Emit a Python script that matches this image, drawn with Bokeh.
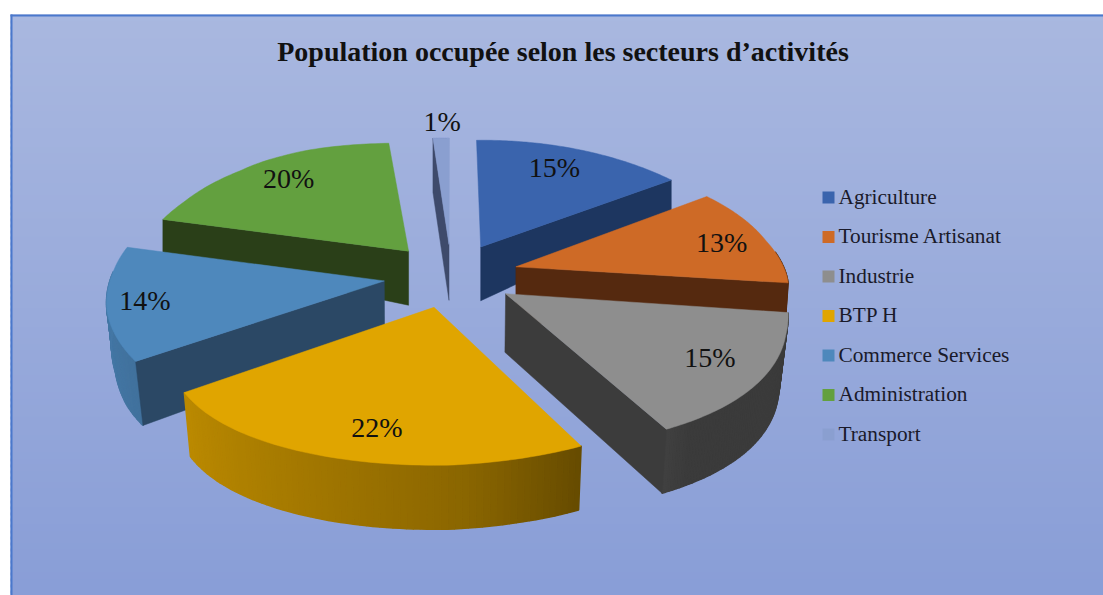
import numpy as np
from bokeh.plotting import figure
from bokeh.core.properties import value
from bokeh.embed import file_html
from bokeh.resources import INLINE

# ---- data
title_text = "Population occupée selon les secteurs d’activités"
categories = ["Agriculture", "Tourisme Artisanat", "Industrie", "BTP H",
              "Commerce Services", "Administration", "Transport"]
shares = [15.2, 13.0, 14.8, 22.0, 14.0, 19.8, 1.2]

# ---- styles
top_colors = ["#3A64AD", "#CE6A26", "#8E8E8E", "#E0A500", "#4E88BC", "#63A03F", "#8A9FD0"]
wall_colors = ["#1D3660", "#55290F", "#3C3C3C", "#5A4200", "#2B4865", "#2A3F18", "#3E4A6B"]
label_radius = [0.72, 0.72, 0.72, 0.66, 0.84, 0.72, 1.17]
label_nudge = [(-1, -8), (28, -1), (28, 5), (-4, 25), (-7, 1), (-10, -9), (2, -1)]
draw_order = [6, 5, 0, 1, 4, 2, 3]   # back to front

# ---- projection of the tilted, exploded pie into page pixels
CX, CY = 451, 275
A, PX = 270, 0.25
B, PY = 128, 0.131
EXPLODE = 0.25
W, H = 1103, 595


def thickness(X, Y):
    w = np.clip(Y / 0.3, 0, 1)
    side = np.where(X < 0, 19, 26)
    return 56 + 8 * np.clip(-Y / 0.5, 0, 1) - side * np.abs(X) * w


def project(X, Y, drop=False):
    X, Y = np.asarray(X, float), np.asarray(Y, float)
    sx = CX + A * X / (1 + PX * Y)
    # the original's camera skews the two sides slightly differently
    left = np.interp(Y, [-0.8, -0.65, -0.3, 0, 0.2, 0.6, 0.9, 1.05, 1.19, 1.22],
                     [34, 22, 8, -2, -10, -14, -22, -35, -58, -13])
    right = np.interp(Y, [-1, -0.5, -0.2, 0.2, 0.8], [-22, -14, -6, -2, 11])
    sx = sx + np.where(X < 0, left, right) * np.abs(X)
    sy = CY - B * Y / (1 + PY * Y)
    lift = np.interp(Y, [-1, -0.1, 0.8], [6, 10, 3])
    sy = sy - np.where(X > 0, lift * X, 2.5 * np.abs(X))
    if drop:
        sy = sy + thickness(X, Y)
        # the lower rim converges slightly at the front
        sx = sx - 7 * X * np.clip(-Y / 0.3, 0, 1)
    return sx, sy


def hex_scale(c, f):
    r, g, b = int(c[1:3], 16), int(c[3:5], 16), int(c[5:7], 16)
    return "#%02x%02x%02x" % (int(r * f), int(g * f), int(b * f))


p = figure(width=W, height=H, x_range=(0, W), y_range=(H, 0),
           output_backend="svg", toolbar_location=None, min_border=0,
           background_fill_color="white", border_fill_color="white", outline_line_color=None)
p.xaxis.visible = False
p.yaxis.visible = False
p.grid.visible = False

# panel background: vertical gradient (overlapping bands) and the blue frame
bands = np.arange(14, H + 6, 6)
c0, c1 = np.array([0xA9, 0xB8, 0xE0]), np.array([0x89, 0x9E, 0xD7])
n = len(bands) - 1
band_colors = ["#%02x%02x%02x" % tuple(int(v) for v in c0 + (c1 - c0) * i / (n - 1)) for i in range(n)]
p.quad(left=10, right=W, top=bands[:-1], bottom=bands[1:] + 3, fill_color=band_colors, line_color=None)
p.quad(left=[10, 10], right=[W, 12], top=[14, 14], bottom=[16, H],
       fill_color="#4A78CC", line_color=None)

# pie, slice by slice
edges = np.concatenate([[0], np.cumsum(shares)]) / np.sum(shares) * 2 * np.pi
shade_x, shade_f = [-1, 0.1, 0.5, 1], [0.88, 0.62, 0.42, 0.42]

for i in draw_order:
    t0, t1 = edges[i], edges[i + 1]
    mid = (t0 + t1) / 2
    ex, ey = EXPLODE * np.sin(mid), EXPLODE * np.cos(mid)
    th = np.linspace(t0, t1, 72)
    ax, ay = ex + np.sin(th), ey + np.cos(th)

    # outer wall, shaded along the arc (only the part that faces the viewer)
    sx, sy = project(ax, ay)
    dx, dy = project(ax, ay, drop=True)
    xs, ys, cs = [], [], []
    for k in range(len(th) - 1):
        if np.cos((th[k] + th[k + 1]) / 2) > 0.05:
            continue
        xs.append([sx[k], sx[k + 1], dx[k + 1], dx[k]])
        ys.append([sy[k], sy[k + 1], dy[k + 1], dy[k]])
        f = np.interp(np.sin((th[k] + th[k + 1]) / 2), shade_x, shade_f)
        cs.append(hex_scale(top_colors[i], f))
    if xs:
        p.patches(xs, ys, fill_color=cs, line_color=cs, line_width=1.5)

    # radial walls that face the viewer
    for tt, faces in ((t0, np.sin(t0) < -1e-6), (t1, -np.sin(t1) < -1e-6)):
        if not faces:
            continue
        wx = np.array([ex, ex + np.sin(tt)])
        wy = np.array([ey, ey + np.cos(tt)])
        sx, sy = project(wx, wy)
        dx, dy = project(wx, wy, drop=True)
        p.patch(np.r_[sx, dx[::-1]], np.r_[sy, dy[::-1]],
                fill_color=wall_colors[i], line_color=wall_colors[i], line_width=0.5)

    # top face
    tx, ty = project(np.r_[ex, ax], np.r_[ey, ay])
    p.patch(tx, ty, fill_color=top_colors[i], line_color=top_colors[i], line_width=0.5)

# percentage labels
for i, s in enumerate(shares):
    mid = (edges[i] + edges[i + 1]) / 2
    r = EXPLODE + label_radius[i]
    lx, ly = project(r * np.sin(mid), r * np.cos(mid))
    p.text([float(lx) + label_nudge[i][0]], [float(ly) + label_nudge[i][1]], text=[f"{round(s)}%"],
           text_font=value("Liberation Serif"), text_font_size="28px", text_color="#111111",
           text_align="center", text_baseline="middle")

# title
p.text([562.5], [51], text=[title_text], text_font=value("Liberation Serif"), text_font_style="bold",
       text_font_size="28px", text_color="#111111", text_align="center", text_baseline="middle")

# legend
leg_y = 196 + np.arange(len(categories)) * 39.5
p.scatter(np.full(len(categories), 828), leg_y + 1, marker="square", size=12,
          fill_color=top_colors, line_color=None)
p.text(np.full(len(categories), 838), leg_y, text=categories, text_font=value("Liberation Serif"),
       text_font_size="21.3px", text_color="#1A1A2A", text_align="left", text_baseline="middle")

open("out.html", "w").write(file_html(p, INLINE))
